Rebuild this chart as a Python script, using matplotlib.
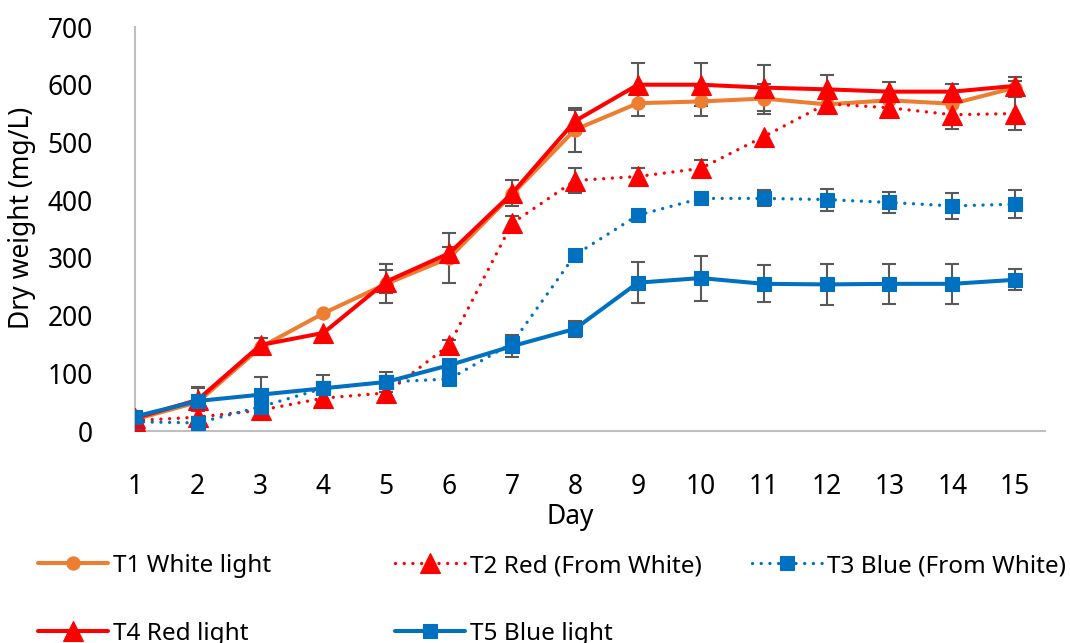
#!/usr/bin/env python3
import numpy as np
import matplotlib
matplotlib.use("Agg")
import matplotlib.pyplot as plt

days = np.arange(1, 16)

# mean dry weight (mg/L) per treatment
t1_white = [20, 50, 145, 204, 255, 300, 410, 522, 568, 571, 576, 566, 573, 567, 595]
t2_red_from_white = [18, 24, 36, 57, 66, 149, 360, 434, 441, 455, 510, 567, 560, 548, 550]
t3_blue_from_white = [16, 14, 42, 74, 85, 90, 152, 305, 374, 403, 403, 401, 396, 390, 393]
t4_red = [22, 54, 149, 170, 259, 308, 412, 537, 600, 600, 595, 592, 588, 588, 598]
t5_blue = [25, 52, 63, 74, 85, 114, 147, 177, 257, 265, 255, 254, 255, 255, 262]

# standard deviations (0 = no bar drawn)
t1_err = [0, 26, 0, 0, 34, 43, 0, 38, 23, 25, 26, 0, 0, 0, 12]
t2_err = [0, 0, 0, 0, 0, 9, 12, 21, 15, 14, 0, 0, 0, 25, 29]
t3_err = [0, 0, 0, 0, 0, 0, 0, 0, 0, 0, 14, 19, 18, 23, 24]
t4_err = [0, 20, 12, 0, 20, 11, 23, 20, 37, 37, 40, 25, 16, 14, 15]
t5_err = [0, 0, 30, 23, 18, 0, 19, 14, 36, 39, 32, 35, 35, 35, 18]

labels = ["T1 White light", "T2 Red (From White)", "T3 Blue (From White)",
          "T4 Red light", "T5 Blue light"]

ORANGE = "#ED7D31"
RED = "#FF0000"
BLUE = "#0070C0"
ERR = "#595959"
AXIS = "#BFBFBF"

plt.rcParams["font.family"] = ["Noto Sans", "DejaVu Sans"]
plt.rcParams["font.size"] = 19

fig = plt.figure(figsize=(10.7, 6.43), dpi=100)
ax = fig.add_axes([0.126, 0.3297, 0.851, 0.6283])

dotted = (0, (0.01, 2.6))
series = [
    (t1_white, t1_err, dict(color=ORANGE, lw=2.9, ls="-", marker="o", ms=9.5)),
    (t2_red_from_white, t2_err, dict(color=RED, lw=2.4, ls=dotted, marker="^", ms=15)),
    (t3_blue_from_white, t3_err, dict(color=BLUE, lw=2.4, ls=dotted, marker="s", ms=9.5)),
    (t4_red, t4_err, dict(color=RED, lw=2.9, ls="-", marker="^", ms=15)),
    (t5_blue, t5_err, dict(color=BLUE, lw=2.9, ls="-", marker="s", ms=9.5)),
]

handles = []
for i, (vals, err, style) in enumerate(series):
    vals = np.array(vals, dtype=float)
    err = np.array(err, dtype=float)
    has_bar = err > 0
    ax.errorbar(days[has_bar], vals[has_bar], yerr=err[has_bar], fmt="none",
                ecolor=ERR, elinewidth=1.5, capsize=5, capthick=1.5,
                zorder=2 + i * 0.1)
    line, = ax.plot(days, vals, color=style["color"], lw=style["lw"],
                    ls=style["ls"], marker=style["marker"], ms=style["ms"],
                    mfc=style["color"], mec=style["color"], mew=0.8,
                    dash_capstyle="round", solid_capstyle="round",
                    label=labels[i], zorder=3 + i * 0.1)
    handles.append(line)

ax.set_xlim(1, 15.48)
ax.set_ylim(0, 700)
ax.set_xticks(days)
ax.set_yticks(np.arange(0, 701, 100))
ax.tick_params(axis="both", length=0, labelsize=19)
ax.tick_params(axis="x", pad=30)
ax.tick_params(axis="y", pad=30)

for side in ["top", "right"]:
    ax.spines[side].set_visible(False)
for side in ["left", "bottom"]:
    ax.spines[side].set_color(AXIS)
    ax.spines[side].set_linewidth(1.5)

ax.set_ylabel("Dry weight (mg/L)", fontsize=19)
ax.yaxis.set_label_coords(-0.108, 0.527)
ax.set_xlabel("Day", fontsize=19)
ax.xaxis.set_label_coords(0.478, -0.178)

# legend laid out in three fixed-width columns under the plot
legend_kw = dict(loc="upper left", frameon=False, fontsize=17.5, borderpad=0,
                 borderaxespad=0, handlelength=2.9, handletextpad=0.2,
                 labelspacing=1.8, numpoints=1)
columns = [([handles[0], handles[3]], 38), ([handles[1], handles[4]], 395),
           ([handles[2]], 752)]
for col_handles, x0 in columns:
    fig.legend(handles=col_handles, labels=[h.get_label() for h in col_handles],
               bbox_to_anchor=(x0 / 1070, 1 - 554 / 643), **legend_kw)

fig.savefig("out.png", dpi=100)
